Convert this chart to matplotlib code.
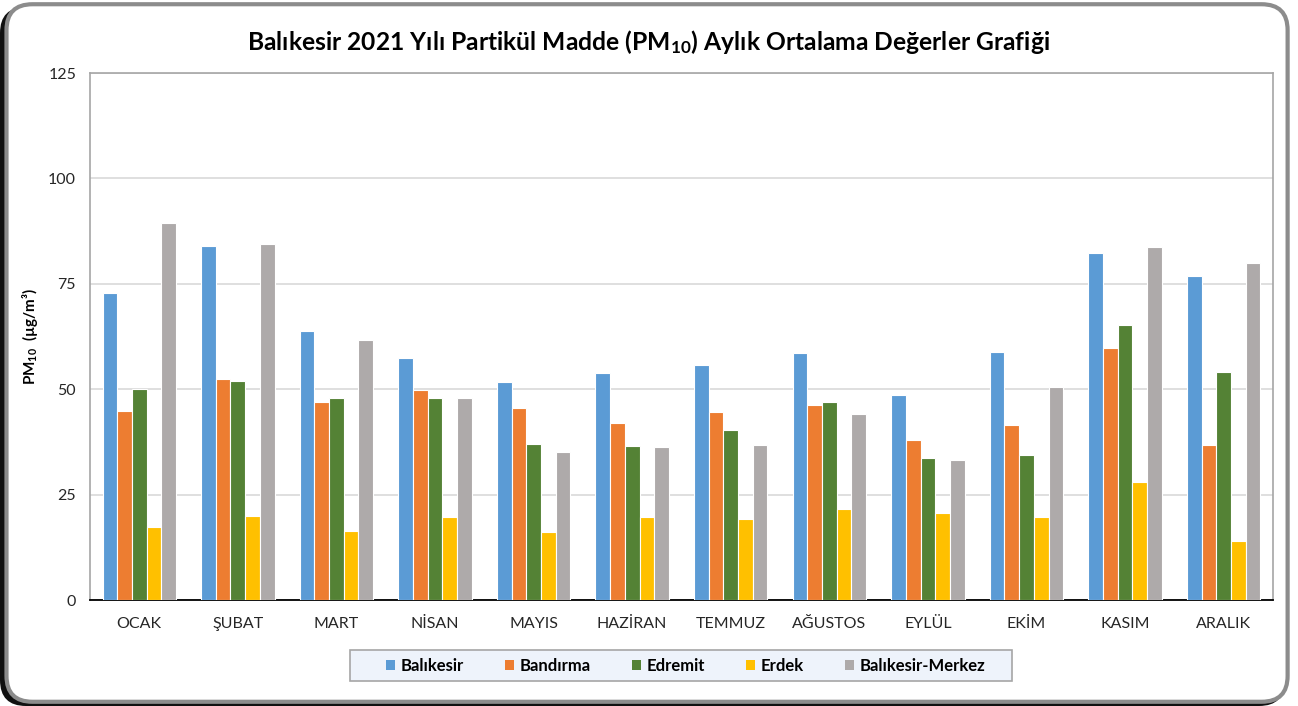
import numpy as np
import matplotlib
matplotlib.use("Agg")
from matplotlib import pyplot as plt
from matplotlib.patches import FancyBboxPatch, Rectangle

plt.rcParams['font.family'] = ['Lato', 'DejaVu Sans']
plt.rcParams['mathtext.fontset'] = 'custom'
plt.rcParams['mathtext.rm'] = 'Lato'
plt.rcParams['mathtext.bf'] = 'Lato:bold'

months = ['OCAK', 'ŞUBAT', 'MART', 'NİSAN', 'MAYIS', 'HAZİRAN', 'TEMMUZ',
          'AĞUSTOS', 'EYLÜL', 'EKİM', 'KASIM', 'ARALIK']
stations = ['Balıkesir', 'Bandırma', 'Edremit', 'Erdek', 'Balıkesir-Merkez']

balikesir = [72.8, 84.0, 63.8, 57.4, 51.7, 53.8, 55.7, 58.6, 48.6, 58.8, 82.3, 76.8]
bandirma = [44.8, 52.4, 47.0, 49.8, 45.6, 42.0, 44.6, 46.3, 38.0, 41.5, 59.8, 36.7]
edremit = [50.0, 51.9, 47.9, 47.9, 37.0, 36.6, 40.4, 47.0, 33.8, 34.5, 65.2, 54.1]
erdek = [17.3, 19.9, 16.3, 19.6, 16.1, 19.7, 19.2, 21.6, 20.6, 19.7, 28.0, 14.0]
merkez = [89.4, 84.4, 61.7, 48.0, 35.0, 36.2, 36.8, 44.1, 33.2, 50.5, 83.7, 79.9]

series = [balikesir, bandirma, edremit, erdek, merkez]
colors = ['#5B9BD5', '#ED7D31', '#548235', '#FFC000', '#AEAAAA']

fig = plt.figure(figsize=(12.98, 7.06), dpi=100)

# chart frame with a dark shadow on the left/bottom
shadow = FancyBboxPatch((0.0, 0.0), 0.99, 0.99, boxstyle="round,pad=0,rounding_size=0.02",
                        transform=fig.transFigure, facecolor='#111111', edgecolor='none',
                        mutation_aspect=1298 / 706, zorder=0)
frame = FancyBboxPatch((0.005, 0.006), 0.987, 0.988, boxstyle="round,pad=0,rounding_size=0.02",
                       transform=fig.transFigure, facecolor='white', edgecolor='#8C8C8C',
                       linewidth=3, mutation_aspect=1298 / 706, zorder=1)
fig.patches.extend([shadow, frame])

ax = fig.add_axes([0.0693, 0.1501, 0.9114, 0.7465])
ax.set_zorder(2)

x = np.arange(len(months))
w = 0.149
for i, (vals, name, c) in enumerate(zip(series, stations, colors)):
    ax.bar(x + (i - 2) * w, vals, width=w, color=c, edgecolor='white',
           linewidth=0.8, label=name, zorder=3)

ax.set_xlim(-0.5, len(months) - 0.5)
ax.set_ylim(0, 125)
ax.set_yticks(range(0, 126, 25))
ax.set_xticks(x)
ax.set_xticklabels(months)
ax.tick_params(axis='both', length=0, labelsize=11.5, colors='#262626')
ax.tick_params(axis='y', pad=10)
ax.tick_params(axis='x', pad=12)
ax.yaxis.grid(True, color='#D9D9D9', linewidth=1.2, zorder=0)
ax.set_axisbelow(True)
for s in ['left', 'top', 'right']:
    ax.spines[s].set_color('#A6A6A6')
    ax.spines[s].set_linewidth(1.2)
ax.spines['bottom'].set_color('black')
ax.spines['bottom'].set_linewidth(1.3)

ax.set_ylabel(r'PM$\mathbf{_{10}}$  (µg/m³)', fontsize=11, fontweight='bold')
ax.yaxis.set_label_coords(-0.042, 0.5)

fig.text(0.5, 0.9405,
         r'Balıkesir 2021 Yılı Partikül Madde (PM$\mathbf{_{10}}$) Aylık Ortalama Değerler Grafiği',
         ha='center', va='center', fontsize=17.7, fontweight='bold', zorder=3)

# legend box drawn separately to match the size of the original
box = Rectangle((0.2198, -0.1537), 0.5596, 0.0588, transform=ax.transAxes,
                facecolor='#EEF3FB', edgecolor='#A6A6A6', linewidth=1.2, clip_on=False, zorder=1)
ax.add_patch(box)
leg = ax.legend(loc='center', bbox_to_anchor=(0.5035, -0.1243), ncol=5, frameon=False,
                handlelength=0.55, handleheight=0.55, handletextpad=0.35,
                columnspacing=2.45, borderpad=0.2, prop={'weight': 'bold', 'size': 12})
for h in leg.legend_handles:
    h.set_edgecolor('none')

fig.savefig('out.png', dpi=100)
